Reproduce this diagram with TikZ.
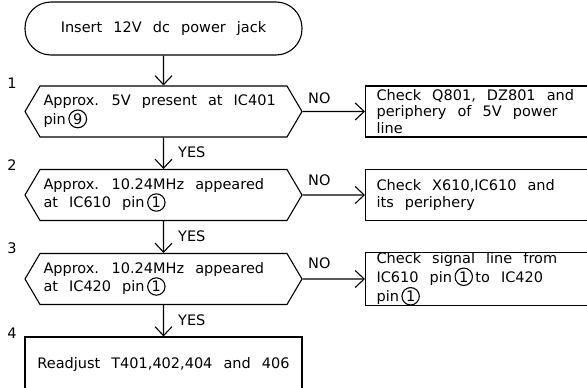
\documentclass[tikz,border=0pt]{standalone}
\usepackage{fontspec}
\setmainfont[WordSpace=2.4]{DejaVu Sans}
\usetikzlibrary{shapes.symbols,arrows.meta}
\tikzset{
    every node/.style={font=\fontsize{14.5}{16.5}\selectfont, inner sep=0pt}
}
\tikzset{
    every edge/.append style={line width=1.1pt,
    	-{Straight Barb[length=9pt,width=17pt]}}
}
\tikzset{
	hexa/.style={draw, line width=1.1pt, signal, signal to=west and east,
		signal pointer angle=119, minimum width=277pt, minimum height=51pt,
		text width=240pt, align=flush left},
	chkbox/.style={draw, line width=1.1pt, rectangle, anchor=west,
		minimum width=222pt, minimum height=51pt, inner xsep=11pt,
		text width=200pt, align=flush left},
	pinring/.style={shape=circle, draw, line width=1.1pt, inner sep=1.2pt,
		minimum width=0pt, minimum height=0pt, text width={}, align=center,
		anchor=base}
}
\newcommand{\pinno}[1]{\,\tikz[baseline=(p.base)]\node[pinring] (p) {#1};}

\begin{document}
\begin{tikzpicture}[x=1pt,y=-1pt]
	\useasboundingbox (0,0) rectangle (587,388);
	\node (s) [draw, line width=1.1pt, rounded corners=26pt,
		minimum width=277pt, minimum height=53pt] at (163.5,28.5)
		{Insert 12V dc power jack};
	\node (q1) [hexa] at (163.5,111.5)
		{Approx. 5V present at IC401\\pin\pinno{9}};
	\node (q2) [hexa] at (163.5,195)
		{Approx. 10.24MHz appeared\\at IC610 pin\pinno{1}};
	\node (q3) [hexa] at (163.5,279)
		{Approx. 10.24MHz appeared\\at IC420 pin\pinno{1}};
	\node (r4) [draw, line width=1.1pt, minimum width=277pt,
		minimum height=54pt] at (163.5,364)
		{Readjust T401,402,404 and 406};
	
	\node (c1) [chkbox] at (365,111.5)
		{Check Q801, DZ801 and\\periphery of 5V power\\line};
	\node (c2) [chkbox] at (365,195)
		{Check X610,IC610 and\\its periphery};
	\node (c3) [chkbox] at (365,279)
		{Check signal line from\\IC610 pin\pinno{1}\,to IC420\\pin\pinno{1}};
	
	\node (n1) at (12,83) {1};
	\node (n2) at (12,165) {2};
	\node (n3) at (12,248) {3};
	\node (n4) at (12,333) {4};
	
	\node (no1) [anchor=west] at (308,98) {NO};
	\node (no2) [anchor=west] at (308,180) {NO};
	\node (no3) [anchor=west] at (308,263) {NO};
	\node (yes1) [anchor=west] at (178,152) {YES};
	\node (yes2) [anchor=west] at (178,236) {YES};
	\node (yes3) [anchor=west] at (178,320) {YES};
	
	\draw (s) edge (q1); \draw (q1) edge (q2); \draw (q2) edge (q3);
	\draw (q3) edge (r4);
	\draw (q1) edge (c1); \draw (q2) edge (c2); \draw (q3) edge (c3);
\end{tikzpicture}
\end{document}
